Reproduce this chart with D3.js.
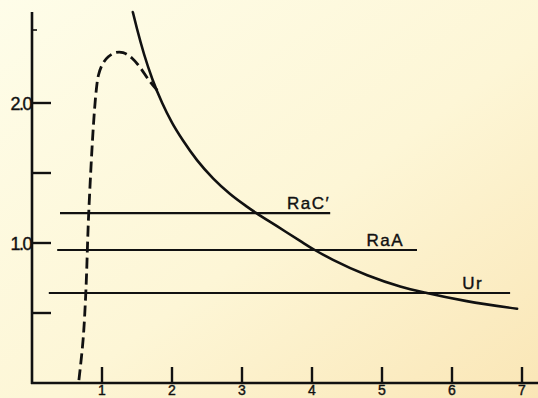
<!DOCTYPE html>
<html>
<head>
<meta charset="utf-8">
<script src="https://cdn.jsdelivr.net/npm/d3@7"></script>
<style>
  html, body { margin: 0; padding: 0; background: #fdf8dc; }
  svg { display: block; }
</style>
</head>
<body>
<figure id="range" style="margin:0"></figure>
<script>
// solid curve
const solidX = [1.44, 1.50, 1.60, 1.72, 1.86, 2.00, 2.16, 2.36, 2.59, 2.83, 3.07, 3.20, 3.50, 3.83, 4.04, 4.30, 4.79, 5.26, 5.64, 6.21, 6.93];
const solidY = [2.65, 2.53, 2.35, 2.17, 2.00, 1.86, 1.73, 1.59, 1.46, 1.35, 1.26, 1.215, 1.12, 1.015, 0.95, 0.88, 0.77, 0.69, 0.643, 0.585, 0.53];

// dashed curve
const dashX = [0.67, 0.73, 0.77, 0.81, 0.88, 0.92, 0.95, 1.01, 1.09, 1.19, 1.30, 1.43, 1.55, 1.66, 1.79];
const dashY = [0.02, 0.31, 0.66, 1.21, 1.86, 2.10, 2.20, 2.28, 2.33, 2.36, 2.36, 2.32, 2.25, 2.17, 2.09];

// horizontal lines
const levelNames = ["RaC\u2032", "RaA", "Ur"];
const levelValues = [1.214, 0.95, 0.643];
const levelStart = [0.40, 0.36, 0.24];
const levelEnd = [4.26, 5.50, 6.83];

const xTicks = [1, 2, 3, 4, 5, 6, 7];
const yTicks = [0.5, 1.0, 1.5, 2.0];
const yLabels = ["", "1.0", "", "2.0"];

const width = 538;
const height = 398;

const svg = d3.select("figure#range")
  .append("svg")
  .attr("width", width)
  .attr("height", height);

// paper background
const grad = svg.append("defs").append("linearGradient")
  .attr("id", "paper")
  .attr("x1", "0%").attr("y1", "0%")
  .attr("x2", "100%").attr("y2", "100%");
grad.append("stop").attr("offset", "0%").attr("stop-color", "#fefde9");
grad.append("stop").attr("offset", "55%").attr("stop-color", "#fdf6d6");
grad.append("stop").attr("offset", "100%").attr("stop-color", "#fae6b6");
svg.append("rect")
  .attr("width", width).attr("height", height)
  .attr("fill", "url(#paper)");

const x = d3.scaleLinear().domain([0, 7]).range([32, 522]);
const y = d3.scaleLinear().domain([0, 2.5]).range([383, 33]);

const ink = "#111";
const font = "'Liberation Sans', 'DejaVu Sans', sans-serif";

// axes
svg.append("line")
  .attr("x1", x(0)).attr("x2", x(0))
  .attr("y1", 12).attr("y2", y(0) + 1)
  .attr("stroke", ink).attr("stroke-width", 2.6);
svg.append("line")
  .attr("x1", x(0) - 1).attr("x2", width)
  .attr("y1", y(0)).attr("y2", y(0))
  .attr("stroke", ink).attr("stroke-width", 2.6);

// x ticks
svg.append("g")
  .selectAll("line")
  .data(xTicks)
  .enter()
  .append("line")
  .attr("x1", d => x(d)).attr("x2", d => x(d))
  .attr("y1", y(0)).attr("y2", y(0) - 16)
  .attr("stroke", ink).attr("stroke-width", 2.4);
svg.append("g")
  .selectAll("text")
  .data(xTicks)
  .enter()
  .append("text")
  .attr("x", d => x(d))
  .attr("y", 395)
  .attr("text-anchor", "middle")
  .attr("font-family", font)
  .attr("font-size", 14)
  .attr("fill", ink)
  .attr("stroke", ink).attr("stroke-width", 0.4)
  .text(d => d);

// y ticks
svg.append("g")
  .selectAll("line")
  .data(yTicks)
  .enter()
  .append("line")
  .attr("x1", x(0)).attr("x2", x(0) + 19)
  .attr("y1", d => y(d)).attr("y2", d => y(d))
  .attr("stroke", ink).attr("stroke-width", 2.4);
svg.append("line")
  .attr("x1", x(0)).attr("x2", x(0) + 5)
  .attr("y1", y(2.5) - 3).attr("y2", y(2.5) - 3)
  .attr("stroke", ink).attr("stroke-width", 1.6);
svg.append("g")
  .selectAll("text")
  .data(yTicks)
  .enter()
  .append("text")
  .attr("x", x(0) - 1)
  .attr("y", d => y(d) + 6.5)
  .attr("text-anchor", "end")
  .attr("font-family", font)
  .attr("font-size", 18)
  .attr("letter-spacing", -1.5)
  .attr("fill", ink)
  .attr("stroke", ink).attr("stroke-width", 0.4)
  .text((d, i) => yLabels[i]);

// horizontal levels
const labelShift = [0, -13, -27];
const levels = levelNames.map((name, i) => ({
  name: name, value: levelValues[i], start: levelStart[i], end: levelEnd[i]
}));
svg.append("g")
  .selectAll("line")
  .data(levels)
  .enter()
  .append("line")
  .attr("x1", d => x(d.start)).attr("x2", d => x(d.end))
  .attr("y1", d => y(d.value)).attr("y2", d => y(d.value))
  .attr("stroke", ink).attr("stroke-width", 2.2);
svg.append("g")
  .selectAll("text")
  .data(levels)
  .enter()
  .append("text")
  .attr("x", (d, i) => x(d.end) + labelShift[i])
  .attr("y", d => y(d.value) - 4)
  .attr("text-anchor", "end")
  .attr("font-family", font)
  .attr("font-size", 17)
  .attr("letter-spacing", 1.5)
  .attr("fill", ink)
  .attr("stroke", ink).attr("stroke-width", 0.4)
  .text(d => d.name);

// curves
const solidLine = d3.line()
  .x(d => x(d[0]))
  .y(d => y(d[1]))
  .curve(d3.curveMonotoneX);

const dashLine = d3.line()
  .x(d => x(d[0]))
  .y(d => y(d[1]))
  .curve(d3.curveCatmullRom.alpha(0.5));

svg.append("path")
  .datum(solidX.map((v, i) => [v, solidY[i]]))
  .attr("d", solidLine)
  .attr("fill", "none")
  .attr("stroke", ink)
  .attr("stroke-width", 2.6)
  .attr("stroke-linecap", "round");

svg.append("path")
  .datum(dashX.map((v, i) => [v, dashY[i]]))
  .attr("d", dashLine)
  .attr("fill", "none")
  .attr("stroke", ink)
  .attr("stroke-width", 2.8)
  .attr("stroke-dasharray", "11,5");
</script>
</body>
</html>
